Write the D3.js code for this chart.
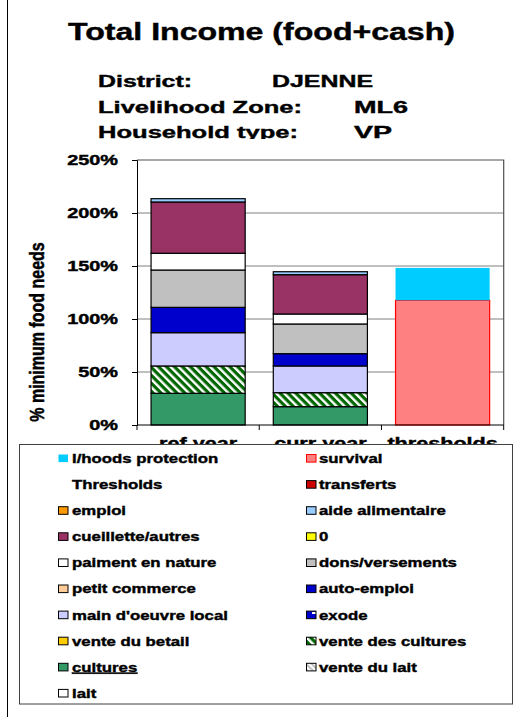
<!DOCTYPE html>
<html><head><meta charset="utf-8">
<script src="https://cdn.jsdelivr.net/npm/d3@7"></script>
<style>
body{margin:0;background:#fff}
text{font-family:"Liberation Sans",Arial,sans-serif;font-weight:bold;fill:#000;stroke:#000;stroke-width:0.4px}
</style>
</head><body>
<svg id="c" width="520" height="717"></svg>
<script>
// ---- data ----
const categories = ["ref year", "curr year", "thresholds"];
const seriesNames = ["cultures", "vente des cultures", "main d'oeuvre local", "auto-emploi",
  "dons/versements", "paiment en nature", "cueillette/autres", "aide alimentaire",
  "survival", "l/hoods protection"];
const refYear    = [29.9, 25.8, 31.4, 23.9, 35.2, 15.8, 48.4, 3.1, 0, 0];
const currYear   = [17.3, 13.2, 25.2, 11.6, 28.0, 9.4, 37.1, 2.8, 0, 0];
const thresholds = [0, 0, 0, 0, 0, 0, 0, 0, 117.6, 30.6];
const yTicks = [0, 50, 100, 150, 200, 250];
const legendNames = ["l/hoods protection", "survival", "Thresholds", "transferts", "emploi",
  "aide alimentaire", "cueillette/autres", "0", "paiment en nature", "dons/versements",
  "petit commerce", "auto-emploi", "main d'oeuvre local", "exode", "vente du betail",
  "vente des cultures", "cultures", "vente du lait", "lait"];
const titleText = "Total Income (food+cash)";
const infoLabels = ["District:", "Livelihood Zone:", "Household type:"];
const infoValues = ["DJENNE", "ML6", "VP"];
const yTitle = "% minimum food needs";

// ---- styles ----
const fills = {
  "l/hoods protection": "#00ccff", "survival": "#ff8080", "transferts": "#cc0000",
  "emploi": "#ff9900", "aide alimentaire": "#99ccff", "cueillette/autres": "#993366",
  "0": "#ffff00", "paiment en nature": "#ffffff", "dons/versements": "#c0c0c0",
  "petit commerce": "#ffcc99", "auto-emploi": "#0000cc", "main d'oeuvre local": "#ccccff",
  "exode": "url(#pExode)", "vente du betail": "#ffcc00", "vente des cultures": "url(#pHatch)",
  "cultures": "#339966", "vente du lait": "url(#pLait)", "lait": "#ffffff"
};
const strokes = {"l/hoods protection": "none", "survival": "#ff0000"};

const svg = d3.select("#c");
const defs = svg.append("defs");
const ph = defs.append("pattern").attr("id", "pHatch").attr("patternUnits", "userSpaceOnUse")
  .attr("width", 5.6).attr("height", 5.6).attr("patternTransform", "rotate(-45)");
ph.append("rect").attr("width", 5.6).attr("height", 5.6).attr("fill", "#006600");
ph.append("rect").attr("width", 2.4).attr("height", 5.6).attr("fill", "#ffffff");
const pe = defs.append("pattern").attr("id", "pExode").attr("patternUnits", "userSpaceOnUse")
  .attr("width", 10).attr("height", 8);
pe.append("rect").attr("width", 10).attr("height", 8).attr("fill", "#0000cc");
pe.append("rect").attr("x", 2).attr("y", 4).attr("width", 4).attr("height", 2).attr("fill", "#ffffff");
const pl = defs.append("pattern").attr("id", "pLait").attr("patternUnits", "userSpaceOnUse")
  .attr("width", 4).attr("height", 4).attr("patternTransform", "rotate(-45)");
pl.append("rect").attr("width", 4).attr("height", 4).attr("fill", "#c0c0c0");
pl.append("rect").attr("width", 2).attr("height", 4).attr("fill", "#ffffff");
defs.append("clipPath").attr("id", "infoClip").append("rect")
  .attr("x", 0).attr("y", 0).attr("width", 520).attr("height", 139);

// outer left frame line
svg.append("line").attr("x1", 7.5).attr("x2", 7.5).attr("y1", 0).attr("y2", 717)
  .attr("stroke", "#000").attr("stroke-width", 1);

// title
svg.append("text").attr("x", 68).attr("y", 40).attr("font-size", 23)
  .attr("textLength", 387).attr("lengthAdjust", "spacingAndGlyphs").text(titleText);

// info lines
const info = svg.append("g").attr("clip-path", "url(#infoClip)");
const infoY = [87, 112.5, 138];
const infoLW = [94, 204, 200];
const infoVX = [272, 354, 354];
const infoVW = [101, 54, 38];
infoLabels.forEach((t, i) => {
  info.append("text").attr("x", 98).attr("y", infoY[i]).attr("font-size", 17)
    .attr("textLength", infoLW[i]).attr("lengthAdjust", "spacingAndGlyphs").text(t);
  info.append("text").attr("x", infoVX[i]).attr("y", infoY[i]).attr("font-size", 17)
    .attr("textLength", infoVW[i]).attr("lengthAdjust", "spacingAndGlyphs").text(infoValues[i]);
});

// ---- chart ----
const L = 137, R = 503.7, T = 160, B = 425;
const x = d3.scaleBand().domain(categories).range([L, R]).paddingInner(0.23).paddingOuter(0.115);
const y = d3.scaleLinear().domain([0, 250]).range([B, T]);

// gridlines
svg.append("g").selectAll("line").data(yTicks.slice(1, -1)).join("line")
  .attr("x1", L).attr("x2", R).attr("y1", d => y(d)).attr("y2", d => y(d))
  .attr("stroke", "#808080").attr("stroke-width", 1);
// plot frame top/right
svg.append("path").attr("d", `M${L},${y(250)}H${R}V${B}`).attr("fill", "none")
  .attr("stroke", "#505050").attr("stroke-width", 1.2);

// stacked bars
const rows = categories.map((c, i) => {
  const o = {cat: c};
  const src = [refYear, currYear, thresholds][i];
  seriesNames.forEach((s, j) => o[s] = src[j]);
  return o;
});
const stack = d3.stack().keys(seriesNames)(rows);
const gBars = svg.append("g");
stack.forEach(layer => {
  const name = layer.key;
  gBars.append("g").selectAll("rect").data(layer.filter(d => d[1] - d[0] > 0)).join("rect")
    .attr("x", d => x(d.data.cat)).attr("width", x.bandwidth())
    .attr("y", d => y(d[1])).attr("height", d => y(d[0]) - y(d[1]))
    .attr("fill", fills[name])
    .attr("stroke", strokes[name] !== undefined ? strokes[name] : "#000")
    .attr("stroke-width", 1.2);
});

// axes
const yAxis = d3.axisLeft(y).tickValues(yTicks).tickSize(5).tickFormat("");
const ya = svg.append("g").attr("transform", `translate(${L},0)`).call(yAxis);
ya.select(".domain").attr("stroke", "#000");
const xa = svg.append("g");
xa.append("line").attr("x1", L).attr("x2", R).attr("y1", B).attr("y2", B).attr("stroke", "#000");
const bounds = [0, 1, 2, 3].map(i => L + i * x.step());
xa.selectAll(".tk").data(bounds).join("line").attr("class", "tk")
  .attr("x1", d => d).attr("x2", d => d).attr("y1", B).attr("y2", B + 5).attr("stroke", "#000");

// y tick labels
svg.append("g").selectAll("text").data(yTicks).join("text")
  .attr("transform", d => `translate(118,${y(d) + 5}) scale(1.42,1)`)
  .attr("text-anchor", "end").attr("font-size", 14).text(d => d + "%");

// y title
svg.append("text").attr("transform", `translate(44,332) scale(1.3,1) rotate(-90)`)
  .attr("text-anchor", "middle").attr("font-size", 16).text(yTitle);

// category labels (partially hidden under legend)
svg.append("g").selectAll("text").data(categories).join("text")
  .attr("transform", d => `translate(${x(d) + x.bandwidth() / 2},448.5) scale(1.35,1)`)
  .attr("text-anchor", "middle").attr("font-size", 16).text(d => d);

// ---- legend ----
const lg = svg.append("g");
lg.append("rect").attr("x", 19.5).attr("y", 444.5).attr("width", 493).attr("height", 259.5)
  .attr("fill", "#fff").attr("stroke", "#404040").attr("stroke-width", 1);
const colMX = [58, 306], colTX = [72, 319];
legendNames.forEach((n, i) => {
  const col = i % 2, row = Math.floor(i / 2);
  const cy = 458.3 + row * 26.1;
  if (n !== "Thresholds") {
    lg.append("rect").attr("x", colMX[col] + 0.5).attr("y", cy - 3.8).attr("width", 9.5).attr("height", 7.6)
      .attr("fill", fills[n])
      .attr("stroke", strokes[n] !== undefined ? strokes[n] : "#000").attr("stroke-width", 1);
  }
  const t = lg.append("text").attr("transform", `translate(${colTX[col]},${cy + 4.6}) scale(1.29,1)`)
    .attr("font-size", 13).text(n);
  if (n === "cultures") t.attr("text-decoration", "underline");
});
</script>
</body></html>
